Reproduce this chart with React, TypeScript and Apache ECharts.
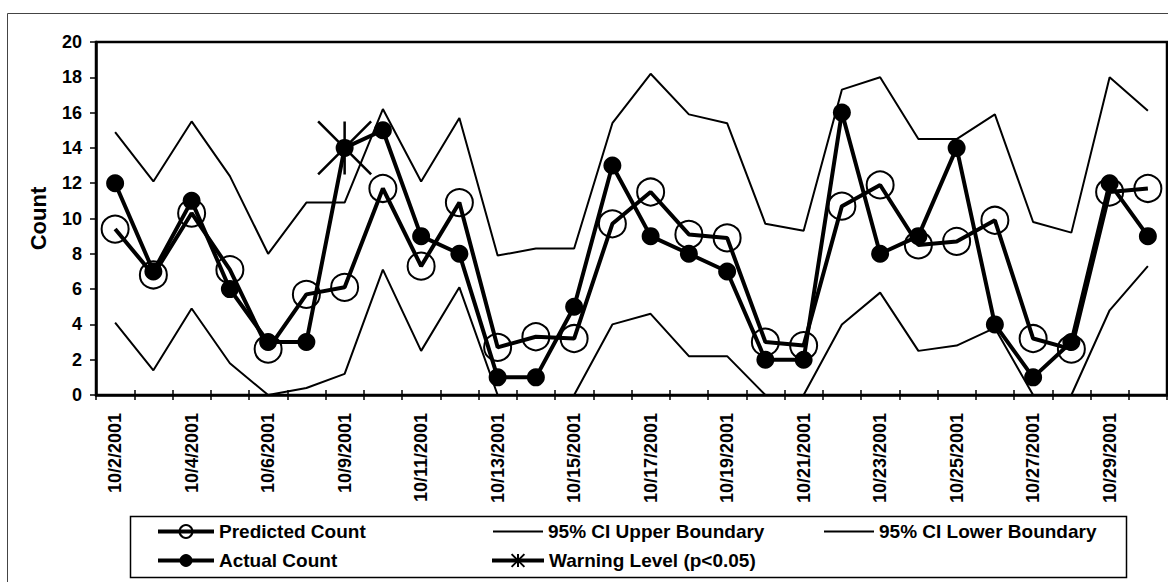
import React, { useEffect, useRef } from "react";
import * as echarts from "echarts";

const dates = [
  "10/2/2001", "10/3/2001", "10/4/2001", "10/5/2001", "10/6/2001", "10/8/2001", "10/9/2001",
  "10/10/2001", "10/11/2001", "10/12/2001", "10/13/2001", "10/14/2001", "10/15/2001", "10/16/2001",
  "10/17/2001", "10/18/2001", "10/19/2001", "10/20/2001", "10/21/2001", "10/22/2001", "10/23/2001",
  "10/24/2001", "10/25/2001", "10/26/2001", "10/27/2001", "10/28/2001", "10/29/2001", "10/30/2001",
];

const predictedCount = [
  9.4, 6.8, 10.3, 7.1, 2.6, 5.7, 6.1, 11.7, 7.3, 10.9, 2.7, 3.3, 3.2, 9.7,
  11.5, 9.1, 8.9, 3.0, 2.8, 10.7, 11.9, 8.5, 8.7, 9.9, 3.2, 2.6, 11.5, 11.7,
];

const upperBoundary = [
  14.9, 12.1, 15.5, 12.4, 8.0, 10.9, 10.9, 16.2, 12.1, 15.7, 7.9, 8.3, 8.3, 15.4,
  18.2, 15.9, 15.4, 9.7, 9.3, 17.3, 18.0, 14.5, 14.5, 15.9, 9.8, 9.2, 18.0, 16.1,
];

const lowerBoundary = [
  4.1, 1.4, 4.9, 1.8, 0, 0.4, 1.2, 7.1, 2.5, 6.1, 0, 0, 0, 4.0,
  4.6, 2.2, 2.2, 0, 0, 4.0, 5.8, 2.5, 2.8, 3.8, 0, 0, 4.8, 7.3,
];

const actualCount = [
  12, 7, 11, 6, 3, 3, 14, 15, 9, 8, 1, 1, 5, 13,
  9, 8, 7, 2, 2, 16, 8, 9, 14, 4, 1, 3, 12, 9,
];

const warningLevel: (number | null)[] = [
  null, null, null, null, null, null, 14, null, null, null, null, null, null, null,
  null, null, null, null, null, null, null, null, null, null, null, null, null, null,
];

const yTicks = { min: 0, max: 20, interval: 2 };

const FONT = '"Liberation Sans", Arial, Helvetica, sans-serif';
const STAR = "path://M0,0 L20,20 M20,0 L0,20 M10,0 L10,20";

function legendItem(name: string, left: number, top: number, itemWidth: number, lineWidth: number) {
  return {
    data: [name],
    left,
    top,
    orient: "horizontal",
    itemWidth,
    itemHeight: 16,
    padding: 0,
    selectedMode: false,
    lineStyle: { width: lineWidth },
    textStyle: { fontFamily: FONT, fontWeight: "bold", fontSize: 19, color: "#000" },
  };
}

export default function App() {
  const ref = useRef<HTMLDivElement>(null);

  useEffect(() => {
    if (!ref.current) return;
    const chart = echarts.init(ref.current, undefined, { renderer: "svg" });

    const option = {
      animation: false,
      backgroundColor: "#fff",
      textStyle: { fontFamily: FONT },
      grid: {
        left: 96,
        right: 1,
        top: 42,
        bottom: 187,
        show: true,
        borderColor: "#000",
        borderWidth: 2.5,
        backgroundColor: "transparent",
      },
      legend: [
        legendItem("Predicted Count", 156, 522, 56, 4),
        legendItem("95% CI Upper Boundary", 492, 522, 50, 2),
        legendItem("95% CI Lower Boundary", 823, 522, 50, 2),
        legendItem("Actual Count", 156, 551, 56, 4),
        legendItem("Warning Level (p<0.05)", 490, 551, 52, 4),
      ],
      xAxis: [
        {
          type: "category",
          data: dates,
          position: "bottom",
          boundaryGap: true,
          axisLine: { show: true, lineStyle: { color: "#000", width: 2.5 } },
          axisTick: { show: true, interval: 0, length: 5, lineStyle: { color: "#000", width: 1.5 } },
          axisLabel: {
            interval: 1,
            rotate: 90,
            margin: 18,
            color: "#000",
            fontFamily: FONT,
            fontWeight: "bold",
            fontSize: 18,
          },
          splitLine: { show: false },
        },
        {
          type: "category",
          data: dates,
          position: "bottom",
          boundaryGap: true,
          axisLine: { show: false },
          axisTick: { show: true, inside: true, interval: 0, length: 5, lineStyle: { color: "#000", width: 1.5 } },
          axisLabel: { show: false },
          splitLine: { show: false },
        },
      ],
      yAxis: {
        type: "value",
        min: yTicks.min,
        max: yTicks.max,
        interval: yTicks.interval,
        name: "Count",
        nameLocation: "middle",
        nameGap: 47,
        nameTextStyle: { fontFamily: FONT, fontWeight: "bold", fontSize: 22, color: "#000" },
        axisLine: { show: true, lineStyle: { color: "#000", width: 2.5 } },
        axisTick: { show: true, length: 6, lineStyle: { color: "#000", width: 1.5 } },
        axisLabel: { color: "#000", fontFamily: FONT, fontWeight: "bold", fontSize: 18, margin: 14 },
        splitLine: { show: false },
      },
      series: [
        {
          name: "Predicted Count",
          type: "line",
          data: predictedCount,
          symbol: "circle",
          symbolSize: 27,
          showAllSymbol: true,
          lineStyle: { color: "#000", width: 4 },
          itemStyle: { color: "transparent", borderColor: "#000", borderWidth: 2 },
          emphasis: { disabled: true },
        },
        {
          name: "95% CI Upper Boundary",
          type: "line",
          data: upperBoundary,
          symbol: "circle",
          showSymbol: false,
          lineStyle: { color: "#000", width: 2 },
          itemStyle: { color: "transparent", borderColor: "transparent", borderWidth: 0 },
          emphasis: { disabled: true },
        },
        {
          name: "95% CI Lower Boundary",
          type: "line",
          data: lowerBoundary,
          symbol: "circle",
          showSymbol: false,
          lineStyle: { color: "#000", width: 2 },
          itemStyle: { color: "transparent", borderColor: "transparent", borderWidth: 0 },
          emphasis: { disabled: true },
        },
        {
          name: "Actual Count",
          type: "line",
          data: actualCount,
          symbol: "circle",
          symbolSize: 18,
          showAllSymbol: true,
          lineStyle: { color: "#000", width: 4 },
          itemStyle: { color: "#000", borderColor: "#000", borderWidth: 0 },
          emphasis: { disabled: true },
        },
        {
          name: "Warning Level (p<0.05)",
          type: "line",
          data: warningLevel,
          symbol: STAR,
          symbolSize: 53,
          showAllSymbol: true,
          connectNulls: false,
          lineStyle: { color: "#000", width: 4 },
          itemStyle: { color: "#000", borderColor: "#000", borderWidth: 2.5 },
          emphasis: { disabled: true },
        },
      ],
      graphic: [
        {
          type: "rect",
          silent: true,
          shape: { x: 7.5, y: 13.5, width: 1175, height: 590 },
          style: { fill: "none", stroke: "#444", lineWidth: 1 },
        },
        {
          type: "rect",
          silent: true,
          shape: { x: 130.5, y: 516.5, width: 996, height: 61 },
          style: { fill: "none", stroke: "#000", lineWidth: 1.5 },
        },
      ],
    };

    chart.setOption(option as any);
    return () => chart.dispose();
  }, []);

  return (
    <div
      ref={ref}
      style={{ position: "fixed", left: 0, top: 0, width: 1168, height: 582, background: "#fff" }}
    />
  );
}
